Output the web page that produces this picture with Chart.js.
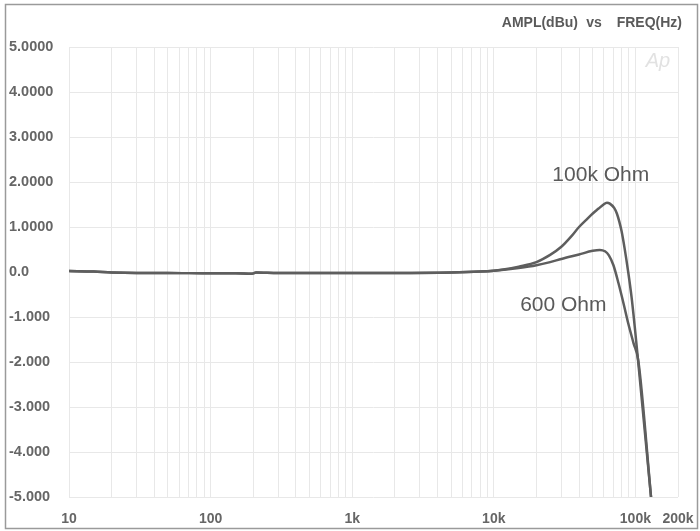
<!DOCTYPE html>
<html>
<head>
<meta charset="utf-8">
<title>AMPL(dBu) vs FREQ(Hz)</title>
<script src="https://cdn.jsdelivr.net/npm/chart.js@4.4.1/dist/chart.umd.min.js"></script>
<style>
    html, body { margin: 0; padding: 0; background: #ffffff; }
    #wrap { position: relative; width: 700px; height: 531px; }
</style>
</head>
<body>
<div id="wrap"><canvas id="ampChart" width="700" height="531"></canvas></div>
<script>
// Frequency response data (Hz -> dBu)
const freq100k = [10, 15, 20, 30, 50, 100, 150, 195, 210, 300, 500, 1000, 2000, 5000, 8000,
    10000, 12000, 15000, 20000, 25000, 30000, 35000, 40000, 45000, 50000, 55000, 59000, 63000,
    66000, 71000, 74000, 77000, 80000, 84000, 89000, 94000, 99000, 104000, 129000];
const ampl100k = [0.02, 0.01, -0.01, -0.02, -0.02, -0.03, -0.03, -0.04, -0.01, -0.02, -0.02, -0.02, -0.02, -0.01, 0.01,
    0.03, 0.06, 0.12, 0.22, 0.38, 0.56, 0.78, 1.0, 1.16, 1.3, 1.41, 1.49, 1.54,
    1.52, 1.42, 1.3, 1.12, 0.9, 0.52, 0.0, -0.56, -1.22, -1.9, -5];

const freq600 = [10, 15, 20, 30, 50, 100, 150, 195, 210, 300, 500, 1000, 2000, 5000, 8000,
    10000, 15000, 20000, 25000, 30000, 40000, 50000, 56000, 61000, 65000, 70000, 76000, 82500,
    89000, 97000, 105000, 129000];
const ampl600 = [0.02, 0.01, -0.01, -0.02, -0.02, -0.03, -0.03, -0.04, -0.01, -0.02, -0.02, -0.02, -0.02, -0.01, 0.01,
    0.03, 0.09, 0.15, 0.22, 0.29, 0.39, 0.47, 0.49, 0.46, 0.37, 0.15, -0.25, -0.7,
    -1.14, -1.58, -1.98, -5];

// Tick positions on the log axis and which of them get a label
const freqTicks = [10, 20, 30, 40, 50, 60, 70, 80, 90,
    100, 200, 300, 400, 500, 600, 700, 800, 900,
    1000, 2000, 3000, 4000, 5000, 6000, 7000, 8000, 9000,
    10000, 20000, 30000, 40000, 50000, 60000, 70000, 80000, 90000,
    100000, 200000];
const freqLabels = { 10: '10', 100: '100', 1000: '1k', 10000: '10k', 100000: '100k', 200000: '200k' };

const lineColor = '#5e5e5e';
const fontFamily = '"Liberation Sans", Arial, Helvetica, sans-serif';

function toPoints(xs, ys) {
    return xs.map((x, i) => ({ x: x, y: ys[i] }));
}

// Draws the frame, the heading, the curve names and the faint "Ap" mark
const decorPlugin = {
    id: 'decor',
    afterDraw(chart) {
        const ctx = chart.ctx;
        const xs = chart.scales.x;
        const ys = chart.scales.y;
        ctx.save();

        // outer frame
        ctx.strokeStyle = '#9a9a9a';
        ctx.lineWidth = 1.5;
        ctx.strokeRect(5.5, 4.5, 692, 524);

        // heading
        ctx.fillStyle = '#5a5a5a';
        ctx.font = 'bold 14px ' + fontFamily;
        ctx.textBaseline = 'middle';
        ctx.textAlign = 'right';
        ctx.fillText('FREQ(Hz)', 682, 23);
        ctx.textAlign = 'center';
        ctx.fillText('vs', 594, 23);
        ctx.textAlign = 'right';
        ctx.fillText('AMPL(dBu)', 578, 23);

        // curve names
        ctx.font = '21px ' + fontFamily;
        ctx.fillStyle = '#5a5a5a';
        ctx.textAlign = 'center';
        ctx.fillText('100k Ohm', xs.getPixelForValue(57000), ys.getPixelForValue(2.16));
        ctx.fillText('600 Ohm', xs.getPixelForValue(31000), ys.getPixelForValue(-0.73));

        // "Ap" watermark
        ctx.font = 'italic 20px ' + fontFamily;
        ctx.fillStyle = '#e2e2e2';
        ctx.fillText('Ap', 658, 61);
        ctx.restore();
    }
};

const ctx = document.getElementById('ampChart').getContext('2d');
const ampChart = new Chart(ctx, {
    type: 'line',
    data: {
        datasets: [{
            label: '100k Ohm',
            data: toPoints(freq100k, ampl100k),
            borderColor: lineColor,
            borderWidth: 2.5,
            pointRadius: 0,
            fill: false,
            cubicInterpolationMode: 'monotone'
        }, {
            label: '600 Ohm',
            data: toPoints(freq600, ampl600),
            borderColor: lineColor,
            borderWidth: 2.5,
            pointRadius: 0,
            fill: false,
            cubicInterpolationMode: 'monotone'
        }]
    },
    options: {
        responsive: false,
        animation: false,
        layout: {
            padding: { left: 9, right: 22, top: 47, bottom: 3 }
        },
        plugins: {
            legend: { display: false },
            title: { display: false },
            tooltip: { enabled: false }
        },
        scales: {
            x: {
                type: 'logarithmic',
                min: 10,
                max: 200000,
                border: { display: false },
                grid: { color: '#e8e8e8', lineWidth: 1, drawTicks: false },
                afterBuildTicks(scale) {
                    scale.ticks = freqTicks.map(v => ({ value: v }));
                },
                afterFit(scale) {
                    scale.height = 31;
                    scale.paddingLeft = 0;
                    scale.paddingRight = 0;
                },
                ticks: {
                    autoSkip: false,
                    maxRotation: 0,
                    padding: 14,
                    color: '#666666',
                    font: { family: fontFamily, size: 14, weight: 'bold' },
                    callback: function(value) {
                        return freqLabels[value] || '';
                    }
                }
            },
            y: {
                min: -5,
                max: 5,
                border: { display: false },
                grid: { color: '#e8e8e8', lineWidth: 1, drawTicks: false },
                afterFit(scale) {
                    scale.width = 60;
                },
                ticks: {
                    stepSize: 1,
                    crossAlign: 'far',
                    color: '#666666',
                    font: { family: fontFamily, size: 14.5, weight: 'bold' },
                    callback: function(value) {
                        if (value > 0) return value.toFixed(4);
                        if (value === 0) return '0.0';
                        return value.toFixed(3);
                    }
                }
            }
        }
    },
    plugins: [decorPlugin]
});
</script>
</body>
</html>
